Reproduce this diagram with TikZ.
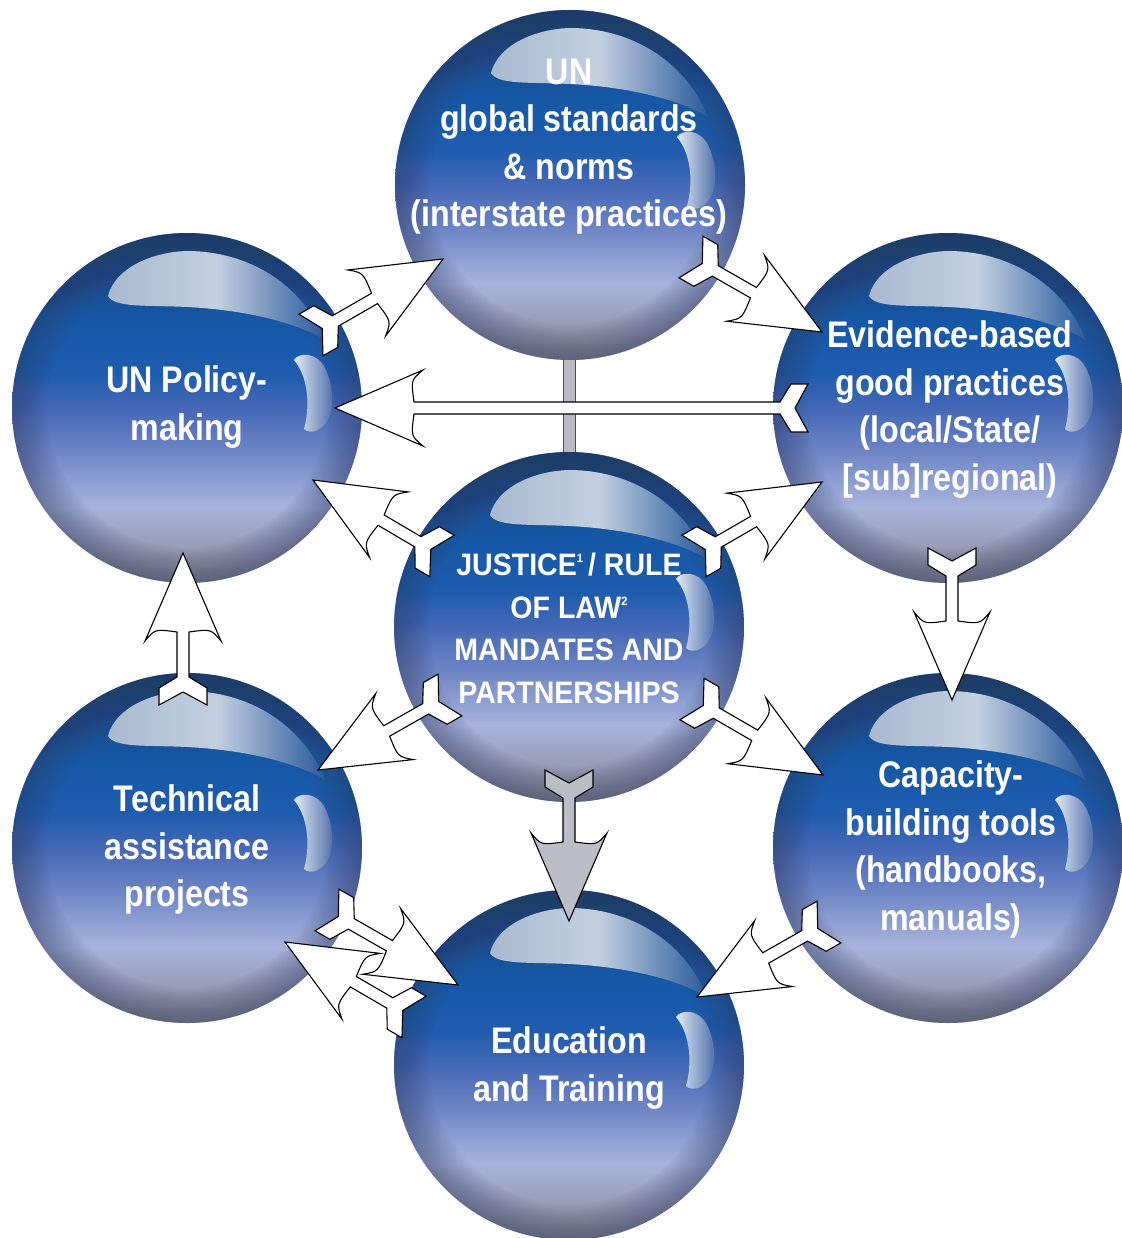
\documentclass[tikz,border=0pt]{standalone}
\usepackage{fontspec}
\newfontfamily\lblfont{Liberation Sans}[FakeStretch=0.87]
\newfontfamily\cenfont{Liberation Sans}[FakeStretch=0.92]
\definecolor{sc1}{HTML}{1C3A68}
\definecolor{sc2}{HTML}{1B4682}
\definecolor{sc3}{HTML}{1558A6}
\definecolor{sc3b}{HTML}{1F5CAE}
\definecolor{sc4}{HTML}{4468B6}
\definecolor{sc5}{HTML}{6C84C4}
\definecolor{sc6}{HTML}{A8B3DC}
\definecolor{sc7}{HTML}{9A9CB4}
\definecolor{sc8}{HTML}{8A8A90}
\definecolor{rimc}{HTML}{34406A}
\definecolor{hl1}{HTML}{A9BAD0}
\definecolor{hl2}{HTML}{C2D0E0}
\definecolor{hl3}{HTML}{2A5A9C}
\definecolor{cr1}{HTML}{E2EAF4}
\definecolor{cr2}{HTML}{4A6AA8}
\definecolor{greyarrow}{HTML}{BDBDC5}
\definecolor{barc}{HTML}{B9B9C1}
\pgfdeclareverticalshading{sphv}{100bp}{color(0bp)=(sc8); color(25bp)=(sc8); color(30bp)=(sc7); color(36bp)=(sc6); color(44bp)=(sc5); color(50bp)=(sc4); color(55bp)=(sc3b); color(62.5bp)=(sc3); color(70bp)=(sc2); color(75bp)=(sc1); color(100bp)=(sc1)}
\tikzset{
  arrowline/.style={draw=black, line width=1.1pt, line join=miter},
  lbl/.style={text=white, font=\lblfont\bfseries\fontsize{37}{47.5}\selectfont, align=center, inner sep=0pt, anchor=north},
  cenlbl/.style={text=white, font=\cenfont\bfseries\fontsize{31}{42.7}\selectfont, align=center, inner sep=0pt, anchor=north},
  sphere/.pic={
    \shade[shading=sphv] (0,0) circle[radius=175pt];
    \begin{scope}
      \clip (0,0) circle[radius=175pt];
      \foreach \w in {5,10,...,70} {\draw[rimc, opacity=0.045, line width=\w pt] (0,0) circle[radius=175pt];}
    \end{scope}
    \shade[left color=hl1, right color=hl3, middle color=hl2]
      (-79,-112) .. controls (-72,-140) and (-35,-156) .. (0,-157)
      .. controls (60,-157) and (115,-125) .. (138,-68)
      .. controls (110,-85) and (60,-98) .. (0,-101)
      .. controls (-40,-103) and (-72,-100) .. (-79,-112) -- cycle;
    \shade[left color=cr1, right color=cr2]
      (107,-48) .. controls (112,-56) and (130,-56) .. (138,-40)
      .. controls (148,-20) and (147,5) .. (138,16)
      .. controls (132,24) and (122,26) .. (117,21)
      .. controls (123,0) and (122,-30) .. (107,-48) -- cycle;
  }
}
\newcommand\fletch[3][white]{%
  \pgfpointdiff{\pgfpointanchor{#2}{center}}{\pgfpointanchor{#3}{center}}%
  \pgfgetlastxy{\fdx}{\fdy}%
  \pgfmathsetmacro\fang{atan2(\fdy,\fdx)}%
  \pgfmathsetmacro\flen{veclen(\fdx,\fdy)}%
  \begin{scope}[shift={(#2)}, rotate=\fang, x=1pt, y=1pt]
    \filldraw[arrowline, fill=#1] (28,6) -- (\flen-79,6) .. controls (\flen-76,28) .. (\flen-88,38)
      -- (\flen,0) -- (\flen-88,-38) .. controls (\flen-76,-28) .. (\flen-79,-6)
      -- (28,-6) -- (17,-24) -- (0,-24) -- (13,0) -- (0,24) -- (17,24) -- cycle;
  \end{scope}}
\begin{document}
\begin{tikzpicture}[x=1pt, y=-1pt]
\useasboundingbox (0,0) rectangle (1121,1238);
% sphere centres
\coordinate (ctop) at (570,185);
\coordinate (cpol) at (187,408);
\coordinate (cevi) at (948,408);
\coordinate (ccen) at (569,627);
\coordinate (ctec) at (187,848);
\coordinate (ccap) at (948,848);
\coordinate (cedu) at (569,1065);
% grey bar between top and centre
\coordinate (bar1) at (563,352);
\coordinate (bar2) at (575,462);
\filldraw[fill=barc, draw=black!70, line width=0.8pt] (bar1) rectangle (bar2);
% spheres
\foreach \c in {ctop,cpol,cevi,ccen,ctec,ccap,cedu} {\pic at (\c) {sphere};}
% labels
\node[lbl] (ltop) at (569,58.5) {UN\\global standards\\\& norms\\(interstate practices)};
\node[lbl] (lpol) at (187,365.5) {UN Policy-\\making};
\node[lbl] (levi) at (950,320.5) {Evidence-based\\good practices\\(local/State/\\{[sub]}regional)};
\node[cenlbl] (lcen) at (569,552.8) {JUSTICE\smash{\raisebox{13pt}{\fontsize{12}{12}\selectfont 1}}\,/ RULE\\OF LAW\smash{\raisebox{13pt}{\fontsize{12}{12}\selectfont 2}}\\MANDATES AND\\PARTNERSHIPS};
\node[lbl] (ltec) at (187,784.5) {Technical\\assistance\\projects};
\node[lbl] (lcap) at (951,760.5) {Capacity-\\building tools\\(handbooks,\\manuals)};
\node[lbl] (ledu) at (569,1026.5) {Education\\and Training};
% arrow end points
\coordinate (r1) at (311,335);  \coordinate (t1) at (443,259);
\coordinate (r2) at (691,257);  \coordinate (t2) at (822,332);
\coordinate (r3) at (808,408);  \coordinate (t3) at (335,408);
\coordinate (r4) at (442,556);  \coordinate (t4) at (313,480);
\coordinate (r5) at (694,556);  \coordinate (t5) at (822,482);
\coordinate (r6) at (952,548);  \coordinate (t6) at (952,700);
\coordinate (r7) at (450,695);  \coordinate (t7) at (318,770);
\coordinate (r8) at (692,699);  \coordinate (t8) at (823,775);
\coordinate (r9) at (569,770);  \coordinate (t9) at (569,921);
\coordinate (r10) at (829,922); \coordinate (t10) at (697,997);
\coordinate (r11) at (183,705); \coordinate (t11) at (183,553);
\coordinate (r12) at (327,910); \coordinate (t12) at (458,985);
\coordinate (r13) at (414,1017); \coordinate (t13) at (285,942);
% arrows
\fletch{r1}{t1}
\fletch{r2}{t2}
\fletch{r3}{t3}
\fletch{r4}{t4}
\fletch{r5}{t5}
\fletch{r6}{t6}
\fletch{r7}{t7}
\fletch{r8}{t8}
\fletch[greyarrow]{r9}{t9}
\fletch{r10}{t10}
\fletch{r11}{t11}
\fletch{r13}{t13}
\fletch{r12}{t12}
\end{tikzpicture}
\end{document}
